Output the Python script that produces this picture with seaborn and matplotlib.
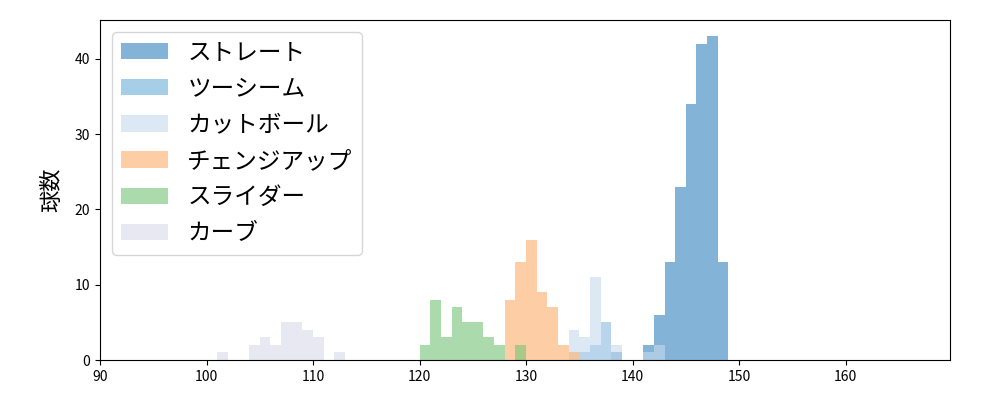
import numpy as np
import matplotlib
matplotlib.use('Agg')
import matplotlib.pyplot as plt
import seaborn as sns

plt.rcParams['font.family'] = ['Noto Sans CJK JP', 'DejaVu Sans']

# 球種ごとの球速(km/h)と球数
pitch_types = ['ストレート', 'ツーシーム', 'カットボール', 'チェンジアップ', 'スライダー', 'カーブ']
colors = ['#3182bd', '#6baed6', '#c6dbef', '#fdae6b', '#74c476', '#dadaeb']

straight_kmh = [138, 141, 142, 143, 144, 145, 146, 147, 148]
straight_cnt = [1, 2, 6, 13, 23, 34, 42, 43, 13]
twoseam_kmh = [135, 136, 137]
twoseam_cnt = [1, 2, 5]
cutter_kmh = [134, 135, 136, 137, 138, 141, 142]
cutter_cnt = [4, 3, 11, 5, 2, 1, 2]
change_kmh = [128, 129, 130, 131, 132, 133, 134]
change_cnt = [8, 13, 16, 9, 7, 2, 1]
slider_kmh = [120, 121, 122, 123, 124, 125, 126, 127, 129]
slider_cnt = [2, 8, 3, 7, 5, 5, 3, 2, 2]
curve_kmh = [101, 104, 105, 106, 107, 108, 109, 110, 112]
curve_cnt = [1, 2, 3, 2, 5, 5, 4, 3, 1]

speeds = [straight_kmh, twoseam_kmh, cutter_kmh, change_kmh, slider_kmh, curve_kmh]
counts = [straight_cnt, twoseam_cnt, cutter_cnt, change_cnt, slider_cnt, curve_cnt]

fig, ax = plt.subplots(figsize=(10, 4), dpi=100)
fig.subplots_adjust(left=0.1, right=0.95, top=0.95, bottom=0.1)

# 1 km/h 刻みで球種ごとに重ね描き
for name, c, x, w in zip(pitch_types, colors, speeds, counts):
    sns.histplot(x=np.array(x) + 0.5, weights=w, binwidth=1, binrange=(90, 170),
                 color=c, alpha=0.6, linewidth=0, label=name, ax=ax)

ax.set_xlim(90, 169.8)
ax.set_xlabel('')
ax.set_ylabel('球数', fontsize=16, labelpad=8)
ax.legend(loc='upper left', fontsize=17, labelspacing=0.56)

plt.savefig('out.png', dpi=100)
plt.close()
